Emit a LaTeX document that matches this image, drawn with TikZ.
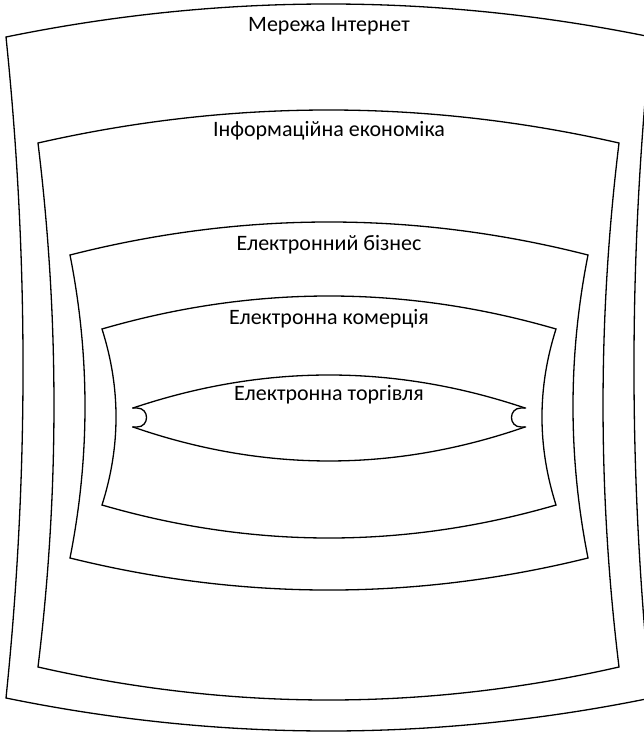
\documentclass[tikz,border=0pt]{standalone}
\usepackage{fontspec}
\setmainfont{Carlito}
\usepackage{tikz}

\begin{document}
\begin{tikzpicture}[x=1pt, y=-1pt,
	boxline/.style={line width=1.3pt, line join=miter},
	lbl/.style={inner sep=0pt, font=\fontsize{22}{26}\selectfont}]
	\useasboundingbox (0,0) rectangle (644,733);
	\clip (0,0) rectangle (644,733);
	% Мережа Інтернет
	\draw[boxline] (6,37) .. controls (221,-7) and (436,-7) .. (651,37)
		.. controls (628.3,257.3) and (628.3,477.7) .. (651,698)
		.. controls (436,742) and (221,742) .. (6,698)
		.. controls (28.7,477.7) and (28.7,257.3) .. cycle;
	% Інформаційна економіка
	\draw[boxline] (38,143) .. controls (231.7,99) and (425.3,99) .. (619,143)
		.. controls (597.7,317.7) and (597.7,492.3) .. (619,667)
		.. controls (425.3,711) and (231.7,711) .. (38,667)
		.. controls (59.3,492.3) and (59.3,317.7) .. cycle;
	% Електронний бізнес
	\draw[boxline] (70,255) .. controls (242.7,211) and (415.3,211) .. (588,255)
		.. controls (568,356) and (568,457) .. (588,558)
		.. controls (415.3,600.7) and (242.7,600.7) .. (70,558)
		.. controls (90,457) and (90,356) .. cycle;
	% Електронна комерція
	\draw[boxline] (102,329) .. controls (253.3,285) and (404.7,285) .. (556,329)
		.. controls (537.3,387.7) and (537.3,446.3) .. (556,505)
		.. controls (404.7,549) and (253.3,549) .. (102,505)
		.. controls (120.7,446.3) and (120.7,387.7) .. cycle;
	% Електронна торгівля
	\draw[boxline] (133,408) .. controls (263.7,364) and (394.3,364) .. (525,408);
	\draw[boxline] (133,427) .. controls (263.7,472.3) and (394.3,472.3) .. (525,427);
	\draw[boxline] (132,408) -- (137,408) .. controls (149.7,408) and (149.7,427) .. (137,427) -- (132,427);
	\draw[boxline] (526,408) -- (521,408) .. controls (508.3,408) and (508.3,427) .. (521,427) -- (526,427);

	\node[lbl] (internet) at (329,26) {Мережа Інтернет};
	\node[lbl] (infoecon) at (329,131) {Інформаційна економіка};
	\node[lbl] (ebusiness) at (329,245) {Електронний бізнес};
	\node[lbl] (ecommerce) at (329,319) {Електронна комерція};
	\node[lbl] (etrade) at (329,395) {Електронна торгівля};
\end{tikzpicture}
\end{document}
